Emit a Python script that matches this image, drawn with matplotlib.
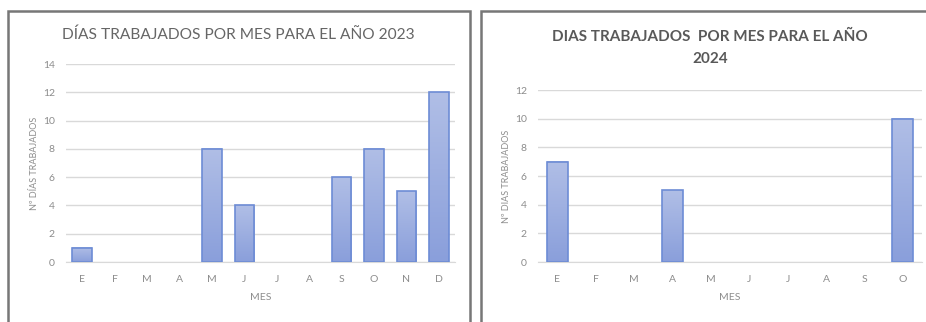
import numpy as np
import matplotlib
matplotlib.use("Agg")
import matplotlib.pyplot as plt
from matplotlib.colors import LinearSegmentedColormap
from matplotlib.patches import Rectangle

# data
months_2023 = ["E", "F", "M", "A", "M", "J", "J", "A", "S", "O", "N", "D"]
days_2023 = [1, 0, 0, 0, 8, 4, 0, 0, 6, 8, 5, 12]
months_2024 = ["E", "F", "M", "A", "M", "J", "J", "A", "S", "O"]
days_2024 = [7, 0, 0, 5, 0, 0, 0, 0, 0, 10]

title_2023 = "DÍAS TRABAJADOS POR MES PARA EL AÑO 2023"
title_2024 = "DIAS TRABAJADOS  POR MES PARA EL AÑO\n2024"
ylabel_2023 = "Nº DÍAS TRABAJADOS"
ylabel_2024 = "Nº DIAS TRABAJADOS"

plt.rcParams["font.family"] = ["Lato", "DejaVu Sans"]

W, H = 926, 322
fig = plt.figure(figsize=(W / 100, H / 100), dpi=100)

grad_cmap = LinearSegmentedColormap.from_list("bar", ["#8a9fdb", "#b0bee6"])
grad = np.linspace(0, 1, 64).reshape(-1, 1)

text_grey = "#8c8c8c"
grid_grey = "#d9d9d9"


def px_axes(x0, x1, y_top, y_bot):
    return fig.add_axes([x0 / W, (H - y_bot) / H, (x1 - x0) / W, (y_bot - y_top) / H])


def draw_panel(ax, labels, values, ymax, width):
    x = np.arange(len(labels))
    bars = ax.bar(x, values, width=width, color="none", edgecolor="#6d8cd5",
                  linewidth=1.2, zorder=3)
    for b, v in zip(bars, values):
        if v <= 0:
            b.set_linewidth(0)
            continue
        bx = b.get_x()
        ax.imshow(grad, extent=(bx, bx + width, 0, v), origin="lower",
                  cmap=grad_cmap, aspect="auto", zorder=2)
    ax.set_xlim(-0.5, len(labels) - 0.5)
    ax.set_ylim(0, ymax)
    ax.set_yticks(range(0, ymax + 1, 2))
    ax.set_xticks(x)
    ax.set_xticklabels(labels)
    ax.yaxis.grid(True, color=grid_grey, linewidth=1)
    ax.set_axisbelow(True)
    for s in ["top", "right", "left"]:
        ax.spines[s].set_visible(False)
    ax.spines["bottom"].set_color(grid_grey)
    ax.tick_params(length=0, colors=text_grey, labelsize=7.5)
    ax.tick_params(axis="x", pad=9)
    ax.tick_params(axis="y", pad=8)


# left chart (2023)
ax1 = px_axes(66, 455, 64, 262)
draw_panel(ax1, months_2023, days_2023, 14, 0.6)
ax1.set_xlabel("MES", color=text_grey, fontsize=7.5, labelpad=7)
ax1.set_ylabel(ylabel_2023, color=text_grey, fontsize=6.5, labelpad=3)

# right chart (2024)
ax2 = px_axes(538, 922, 90, 262)
draw_panel(ax2, months_2024, days_2024, 12, 0.54)
ax2.set_xlabel("MES", color=text_grey, fontsize=7.5, labelpad=7)
ax2.set_ylabel(ylabel_2024, color=text_grey, fontsize=6.5, labelpad=3)

# titles
fig.text(238 / W, 1 - 35 / H, title_2023, ha="center", va="center",
         fontsize=11.2, color="#666666")
fig.text(710 / W, 1 - 48 / H, title_2024, ha="center", va="center",
         fontsize=11, color="#595959", fontweight="bold", linespacing=1.7)

# chart frames
fig.patches.append(Rectangle((8 / W, -0.1), (470 - 8) / W, 1.1 - 11 / H,
                             transform=fig.transFigure, fill=False,
                             edgecolor="#777777", linewidth=1.8))
fig.patches.append(Rectangle((481 / W, -0.1), 0.6, 1.1 - 11 / H,
                             transform=fig.transFigure, fill=False,
                             edgecolor="#777777", linewidth=1.8))

fig.savefig("out.png", dpi=100)
